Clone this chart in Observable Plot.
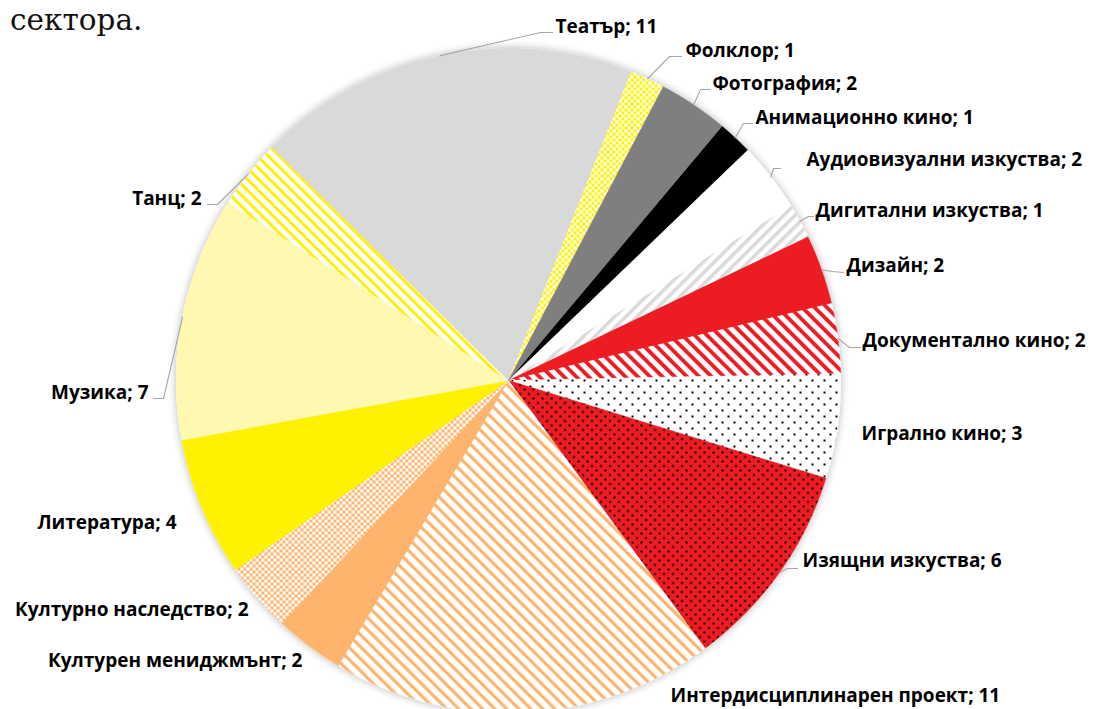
<!DOCTYPE html>
<html><head><meta charset="utf-8">
<script src="https://cdn.jsdelivr.net/npm/d3@7"></script>
<script src="https://cdn.jsdelivr.net/npm/@observablehq/plot@0.6"></script>
<style>
html,body{margin:0;padding:0;background:#fff}
body{width:1094px;height:709px;overflow:hidden;position:relative}
#intro{position:absolute;left:10px;top:3px;z-index:2;font-family:"DejaVu Serif",serif;font-size:29.5px;line-height:34px;color:#111}
#chart{position:absolute;left:0;top:0;z-index:1}
</style></head><body>
<div id="intro" lang="bg">сектора.</div>
<svg width="0" height="0" style="position:absolute">
<defs>
  <pattern id="pCheckY" width="6" height="6" patternUnits="userSpaceOnUse">
    <rect width="6" height="6" fill="#fff"/><rect width="3" height="3" fill="#FFF200"/><rect x="3" y="3" width="3" height="3" fill="#FFF200"/>
  </pattern>
  <pattern id="pCheckO" width="6" height="6" patternUnits="userSpaceOnUse">
    <rect width="6" height="6" fill="#fff"/><rect width="3" height="3" fill="#FFB46E"/><rect x="3" y="3" width="3" height="3" fill="#FFB46E"/>
  </pattern>
  <pattern id="pDance" width="7.8" height="7.8" patternUnits="userSpaceOnUse" patternTransform="rotate(-45)">
    <rect width="7.8" height="7.8" fill="#fff"/><rect width="3" height="7.8" fill="#FFF200"/>
  </pattern>
  <pattern id="pInter" width="8.5" height="8.5" patternUnits="userSpaceOnUse" patternTransform="rotate(-45)">
    <rect width="8.5" height="8.5" fill="#fff"/><rect width="3.2" height="8.5" fill="#FFB46E"/>
  </pattern>
  <pattern id="pDoc" width="8.7" height="8.7" patternUnits="userSpaceOnUse" patternTransform="rotate(-45)">
    <rect width="8.7" height="8.7" fill="#fff"/><rect width="3.8" height="8.7" fill="#ED1C24"/>
  </pattern>
  <pattern id="pDigital" width="8" height="8" patternUnits="userSpaceOnUse" patternTransform="rotate(45)">
    <rect width="8" height="8" fill="#fff"/><rect width="3.5" height="8" fill="#D9D9D9"/>
  </pattern>
  <pattern id="pDotsW" width="12" height="12" patternUnits="userSpaceOnUse">
    <rect width="12" height="12" fill="#fff"/><rect x="1" y="1" width="2" height="2" fill="#000"/><rect x="7" y="7" width="2" height="2" fill="#000"/>
  </pattern>
  <pattern id="pDotsR" width="9" height="9" patternUnits="userSpaceOnUse">
    <rect width="9" height="9" fill="#ED1C24"/><rect x="1" y="1" width="2" height="2" fill="#000"/><rect x="5.5" y="5.5" width="2" height="2" fill="#000"/>
  </pattern>
  <filter id="pieShadow" x="-10%" y="-10%" width="120%" height="120%">
    <feGaussianBlur in="SourceAlpha" stdDeviation="4"/>
    <feComponentTransfer><feFuncA type="linear" slope="0.3"/></feComponentTransfer>
    <feMerge><feMergeNode/><feMergeNode in="SourceGraphic"/></feMerge>
  </filter>
</defs>
</svg>
<div id="chart"></div>
<script>
// ---- data ----
const categories = ["Анимационно кино","Аудиовизуални изкуства","Дигитални изкуства","Дизайн","Документално кино","Игрално кино","Изящни изкуства","Интердисциплинарен проект","Културен мениджмънт","Културно наследство","Литература","Музика","Танц","Театър","Фолклор","Фотография"];
const values = [1,2,1,2,2,3,6,11,2,2,4,7,2,11,1,2];

// ---- styles ----
const sliceFills = ["#000000","#ffffff","url(#pDigital)","#ED1C24","url(#pDoc)","url(#pDotsW)","url(#pDotsR)","url(#pInter)","#FFB46E","url(#pCheckO)","#FFF200","#FFF8B0","url(#pDance)","#D9D9D9","url(#pCheckY)","#7F7F7F"];
const startAngle = 40; // degrees, clockwise from 12 o'clock

// ---- layout (pixels) ----
const W = 1094, H = 709, CX = 508, CY = 380, R = 332;
const labelLayout = {
  "Театър":                   {tx:555, ty:26,  side:"R", elbow:[540,32],  end:[552,32]},
  "Фолклор":                  {tx:685, ty:50,  side:"R", elbow:[669,56],  end:[681,56]},
  "Фотография":               {tx:712, ty:83,  side:"R", elbow:[700,89],  end:[710,89]},
  "Анимационно кино":         {tx:755, ty:117, side:"R", elbow:[743,123], end:[752,123]},
  "Аудиовизуални изкуства":   {tx:806, ty:159, side:"R", elbow:[773,168], end:[780,168]},
  "Дигитални изкуства":       {tx:815, ty:210, side:"R", elbow:[808,216], end:[813,216]},
  "Дизайн":                   {tx:846, ty:265, side:"R", elbow:[832,271], end:[843,272]},
  "Документално кино":        {tx:862, ty:340, side:"R", elbow:[849,347], end:[860,347]},
  "Игрално кино":             {tx:861, ty:433, side:"R", elbow:null},
  "Изящни изкуства":          {tx:802, ty:560, side:"R", elbow:[787,568], end:[797,568]},
  "Интердисциплинарен проект":{tx:670, ty:695, side:"R", elbow:null},
  "Културен мениджмънт":      {tx:302, ty:660, side:"L", elbow:null},
  "Културно наследство":      {tx:248, ty:609, side:"L", elbow:null},
  "Литература":               {tx:176, ty:522, side:"L", elbow:null},
  "Музика":                   {tx:148, ty:392, side:"L", elbow:[163,398], end:[153,398]},
  "Танц":                     {tx:201, ty:198, side:"L", elbow:[217,204], end:[207,204]}
};

const xs = d3.scaleLinear([-1, 1], [CX - R, CX + R]);
const ys = d3.scaleLinear([-1, 1], [CY + R, CY - R]);

const total = d3.sum(values);
let cum = 0;
const slices = categories.map((c, i) => {
  const a0 = startAngle + cum / total * 360;
  cum += values[i];
  const a1 = startAngle + cum / total * 360;
  return {category: c, value: values[i], fill: sliceFills[i], a0, a1, mid: (a0 + a1) / 2};
});

const sliceRows = [];
for (const s of slices) {
  sliceRows.push({category: s.category, fill: s.fill, x: 0, y: 0});
  const n = Math.max(2, Math.ceil((s.a1 - s.a0) / 0.5));
  for (let k = 0; k <= n; k++) {
    const a = (s.a0 + (s.a1 - s.a0) * k / n) * Math.PI / 180;
    sliceRows.push({category: s.category, fill: s.fill, x: Math.sin(a), y: Math.cos(a)});
  }
  sliceRows.push({category: s.category, fill: s.fill, x: 0, y: 0});
}

const leaderRows = [];
const labelRows = [];
for (const s of slices) {
  const L = labelLayout[s.category];
  const a = s.mid * Math.PI / 180;
  labelRows.push({side: L.side, text: `${s.category}; ${s.value}`, x: xs.invert(L.tx), y: ys.invert(L.ty)});
  if (L.elbow) {
    const pts = [[Math.sin(a), Math.cos(a)], [xs.invert(L.elbow[0]), ys.invert(L.elbow[1])], [xs.invert(L.end[0]), ys.invert(L.end[1])]];
    for (const p of pts) leaderRows.push({category: s.category, x: p[0], y: p[1]});
  }
}

const font = "'Open Sans', Lato, sans-serif";
const fs = 19;
const chart = Plot.plot({
  width: W, height: H, margin: 0,
  x: {domain: [-1, 1], range: [CX - R, CX + R], axis: null},
  y: {domain: [-1, 1], range: [CY + R, CY - R], axis: null},
  color: {type: "identity"},
  style: {background: "transparent"},
  marks: [
    Plot.line(sliceRows, {x: "x", y: "y", z: "category", fill: "fill", stroke: "fill", strokeWidth: 0.6, curve: "linear"}),
    Plot.line(leaderRows, {x: "x", y: "y", z: "category", stroke: "#A6A6A6", strokeWidth: 1.1}),
    Plot.text(labelRows.filter(d => d.side === "R"), {x: "x", y: "y", text: "text", textAnchor: "start", fontSize: fs, fontWeight: "bold", fontFamily: font, fill: "#000"}),
    Plot.text(labelRows.filter(d => d.side === "L"), {x: "x", y: "y", text: "text", textAnchor: "end", fontSize: fs, fontWeight: "bold", fontFamily: font, fill: "#000"})
  ]
});
const g = chart.querySelector('g[aria-label="line"]');
if (g) g.setAttribute("filter", "url(#pieShadow)");
document.getElementById("chart").appendChild(chart);
</script>
</body></html>
